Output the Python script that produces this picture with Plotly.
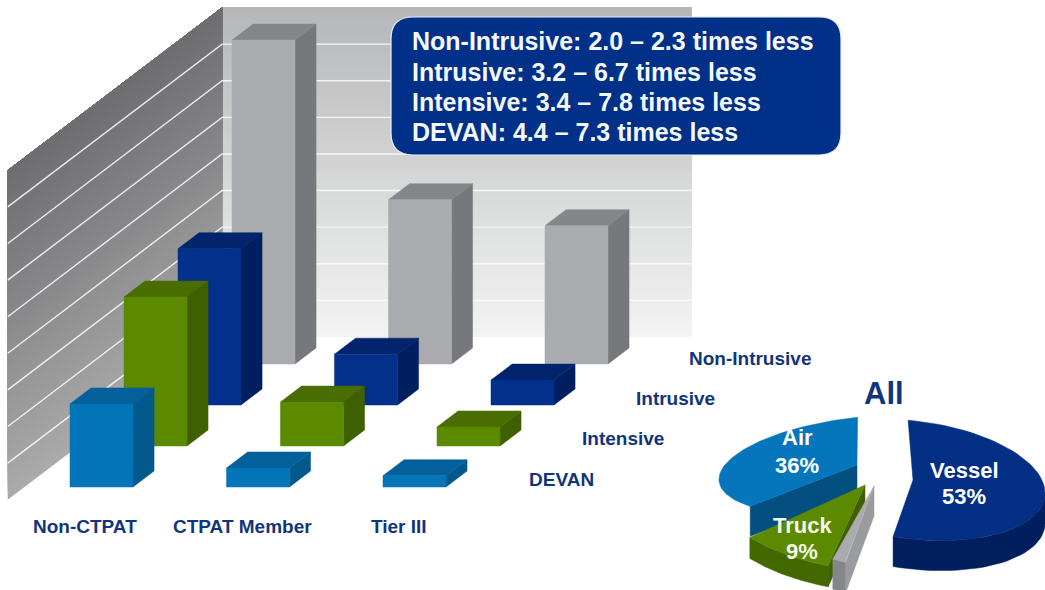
import math
import plotly.graph_objects as go

# ---- data ----
CATEGORIES = ["Non-CTPAT", "CTPAT Member", "Tier III"]
SERIES = ["DEVAN", "Intensive", "Intrusive", "Non-Intrusive"]
DEVAN = [2.27, 0.52, 0.31]
INTENSIVE = [4.07, 1.20, 0.52]
INTRUSIVE = [4.27, 1.39, 0.68]
NON_INTRUSIVE = [8.85, 4.49, 3.78]
GRID_TICKS = [1, 2, 3, 4, 5, 6, 7, 8]
AXIS_MAX = 9
PIE_LABELS = ["Vessel", "Air", "Truck", "Other"]
PIE_SHARES = [53, 36, 9, 2]
CALLOUT = ["Non-Intrusive: 2.0 \u2013 2.3 times less",
           "Intrusive: 3.2 \u2013 6.7 times less",
           "Intensive: 3.4 \u2013 7.8 times less",
           "DEVAN: 4.4 \u2013 7.3 times less"]

# ---- oblique projection ----
X0, Y0, DC, DX, DY, UH = 70, 487, 156.5, 54, 41, 36.6
BAR_W, BAR_E = 63 / 156.5, 0.39
WALL_C, WALL_D, WALL_FRONT, WALL_RIGHT = -0.291, 3.66, -0.31, 2.71


def P(c, d, h):
    return X0 + DC * c + DX * d, Y0 - DY * d - UH * h


fig = go.Figure()


def poly(polys, color, line=None):
    xs, ys = [], []
    for p in polys:
        xs += [q[0] for q in p] + [p[0][0], None]
        ys += [q[1] for q in p] + [p[0][1], None]
    fig.add_trace(go.Scatter(x=xs, y=ys, mode="lines", fill="toself", fillcolor=color,
                             line=dict(width=0.5 if line is None else line, color=color),
                             hoverinfo="skip", showlegend=False))


def mix(a, b, t):
    return "rgb(%d,%d,%d)" % tuple(round(a[i] + (b[i] - a[i]) * t) for i in range(3))


# walls: overlapping bands give a smooth gradient with the axis height
STEPS = 60
for k in range(STEPS):
    h = AXIS_MAX * k / STEPS
    t = k / (STEPS - 1)
    poly([[P(WALL_C, WALL_D, h), P(WALL_RIGHT, WALL_D, h),
           P(WALL_RIGHT, WALL_D, AXIS_MAX), P(WALL_C, WALL_D, AXIS_MAX)]],
         mix((243, 243, 243), (182, 183, 184), t), line=0)
for k in range(STEPS):
    h = AXIS_MAX * k / STEPS
    t = k / (STEPS - 1)
    poly([[P(WALL_C, WALL_FRONT, h), P(WALL_C, WALL_D, h),
           P(WALL_C, WALL_D, AXIS_MAX), P(WALL_C, WALL_FRONT, AXIS_MAX)]],
         mix((170, 170, 171), (110, 110, 112), t), line=0)

# gridlines
gx, gy = [], []
for g in GRID_TICKS:
    for pt in (P(WALL_C, WALL_FRONT, g), P(WALL_C, WALL_D, g), P(WALL_RIGHT, WALL_D, g)):
        gx.append(pt[0]); gy.append(pt[1])
    gx.append(None); gy.append(None)
fig.add_trace(go.Scatter(x=gx, y=gy, mode="lines", line=dict(color="rgba(250,250,250,0.9)", width=1.4),
                         hoverinfo="skip", showlegend=False))

# bars, drawn back to front
BAR_COLORS = {
    "Non-Intrusive": ("#a9abae", "#77787b", "#84878a"),
    "Intrusive": ("#03308a", "#001f60", "#01246c"),
    "Intensive": ("#5b8a00", "#3f6000", "#4a6d00"),
    "DEVAN": ("#0474b8", "#04598c", "#03609a"),
}
VALUES = {"DEVAN": DEVAN, "Intensive": INTENSIVE, "Intrusive": INTRUSIVE, "Non-Intrusive": NON_INTRUSIVE}
for d in range(len(SERIES) - 1, -1, -1):
    name = SERIES[d]
    front, side, top = [], [], []
    for c, h in enumerate(VALUES[name]):
        front.append([P(c, d, 0), P(c + BAR_W, d, 0), P(c + BAR_W, d, h), P(c, d, h)])
        side.append([P(c + BAR_W, d, 0), P(c + BAR_W, d + BAR_E, 0), P(c + BAR_W, d + BAR_E, h), P(c + BAR_W, d, h)])
        top.append([P(c, d, h), P(c + BAR_W, d, h), P(c + BAR_W, d + BAR_E, h), P(c, d + BAR_E, h)])
    f, s, t = BAR_COLORS[name]
    poly(side, s); poly(top, t); poly(front, f)

# 3-D pie: each exploded slice has its own apex and local ellipse (A, B, C, D)
PIE_GEOM = {
    "Air": dict(apex=(857, 465), start=229, k=(138, -4, -13, 48), th=30, top="#0576bb", side=None, cut="#034f80"),
    "Truck": dict(apex=(865, 485), start=200, k=(160, 19, 0, 86), th=21, top="#5b8a00", side="#446800", cut="#3f6000"),
    "Other": dict(apex=(874, 486), start=195, k=(109, 0, 0, 79), th=30, top="#a9abae", side="#85868a", cut="#9a9b9e"),
    "Vessel": dict(apex=(913, 480), start=-3, k=(132, -2, 14, 59), th=30, top="#032f85", side="#001f5c", cut=None),
}


def rim(g, deg):
    u, v = math.sin(math.radians(deg)), -math.cos(math.radians(deg))
    A, B, C, D = g["k"]
    return g["apex"][0] + A * u + B * v, g["apex"][1] + C * u + D * v


shares = dict(zip(PIE_LABELS, PIE_SHARES))
for name in ["Air", "Truck", "Other", "Vessel"]:
    g = PIE_GEOM[name]
    sweep = shares[name] * 3.6
    th = g["th"]
    angs = [g["start"] + sweep * i / 60 for i in range(61)]
    arc = [rim(g, a) for a in angs]
    low = [(x, y + th) for x, y in arc]
    vis = [i for i, a in enumerate(angs) if -math.cos(math.radians(a)) > -0.05]
    if vis and g["side"]:
        poly([[arc[i] for i in vis] + [low[i] for i in reversed(vis)]], g["side"])
    if g["cut"]:
        ax, ay = g["apex"]
        poly([[(ax, ay), arc[0], low[0], (ax, ay + th)]], g["cut"])
    poly([[g["apex"]] + arc], g["top"])

# callout box with rounded corners (layout shape in data coordinates)
bx0, by0, bx1, by1, r = 391, 17, 841, 155, 22
fig.add_shape(type="path", xref="x", yref="y", fillcolor="#003087",
              line=dict(color="#e8eef6", width=1.2),
              path=f"M{bx0+r},{by0} L{bx1-r},{by0} Q{bx1},{by0} {bx1},{by0+r} L{bx1},{by1-r} Q{bx1},{by1} {bx1-r},{by1} "
                   f"L{bx0+r},{by1} Q{bx0},{by1} {bx0},{by1-r} L{bx0},{by0+r} Q{bx0},{by0} {bx0+r},{by0} Z")

FONT = "Liberation Sans"
NAVY = "#11357c"


def text(x, y, s, size, color, anchor="center"):
    fig.add_annotation(x=x, y=y, text=s, xref="x", yref="y", showarrow=False, xanchor=anchor, yanchor="middle",
                       font=dict(family=FONT, size=size, color=color, weight="bold"))


for line, y in zip(CALLOUT, [41, 72, 102, 132]):
    text(410, y, line, 25, "#f4f7fb", "left")
for cat, x in zip(CATEGORIES, [85, 242, 399]):
    text(x, 526, cat, 19, NAVY)
for s, x, y in zip(SERIES, [561, 623, 675, 750], [479, 438, 398, 358]):
    text(x, y, s, 19, NAVY)
text(884, 393, "All", 31, NAVY)
text(797, 437, "Air", 22, "white"); text(797, 465, "36%", 22, "white")
text(964, 470, "Vessel", 22, "white"); text(964, 496, "53%", 22, "white")
text(802, 525, "Truck", 22, "#f4f7ea"); text(802, 551, "9%", 22, "#f4f7ea")

fig.update_layout(width=1045, height=590, margin=dict(l=0, r=0, t=0, b=0),
                  plot_bgcolor="white", paper_bgcolor="white", showlegend=False,
                  xaxis=dict(range=[0, 1045], visible=False, fixedrange=True),
                  yaxis=dict(range=[590, 0], visible=False, fixedrange=True))
fig.write_html("out.html", config=dict(displayModeBar=False), post_script="document.body.style.margin='0';")
